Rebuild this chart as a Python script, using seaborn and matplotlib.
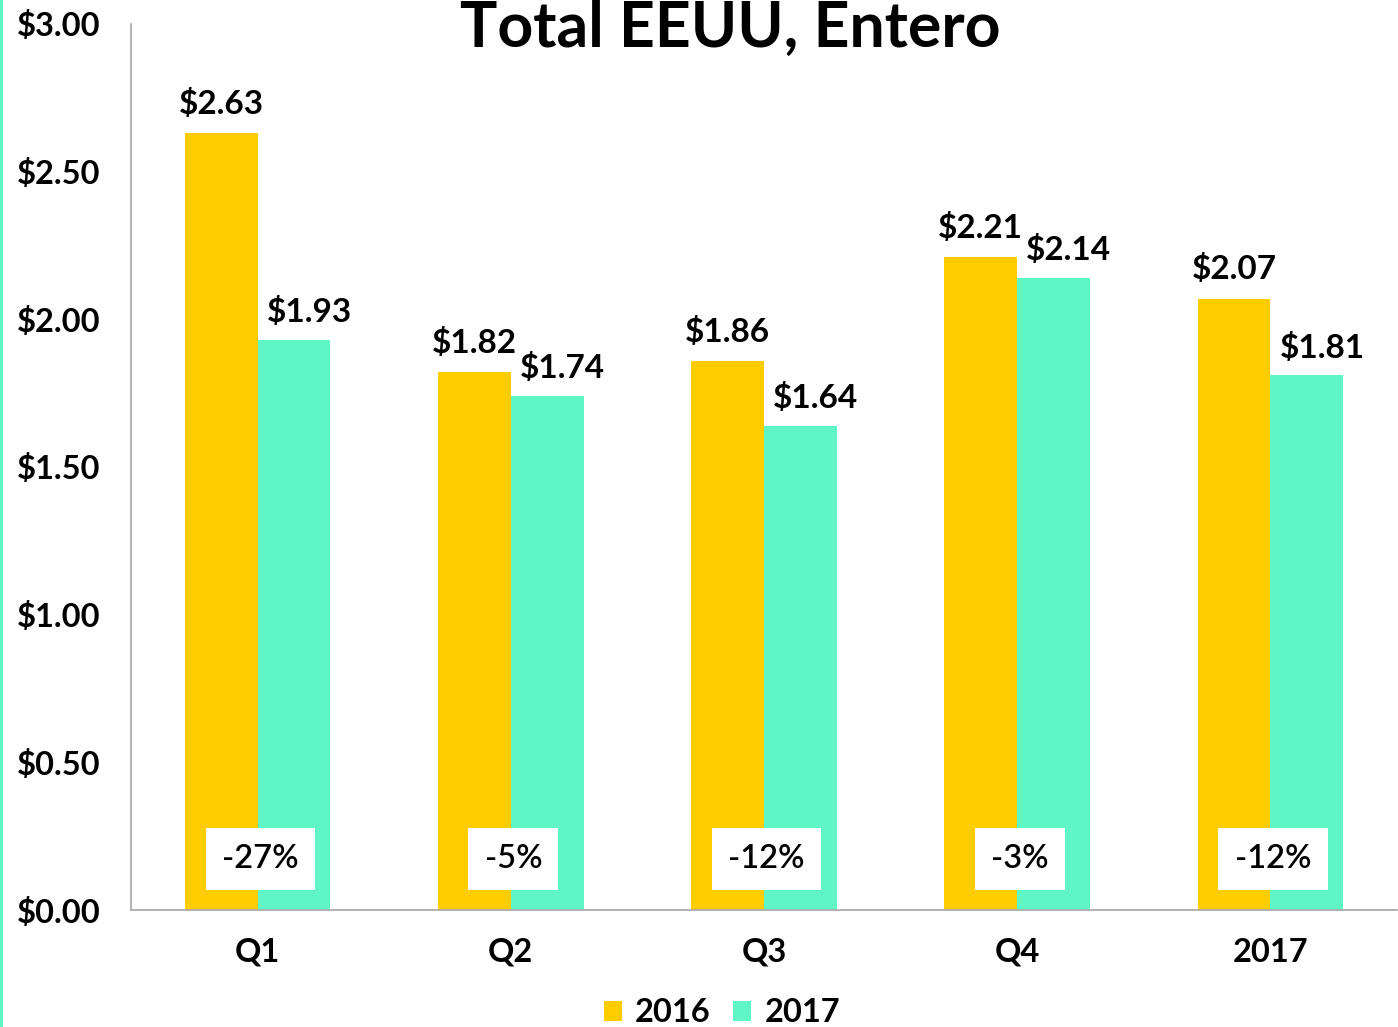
"""Precio promedio por trimestre, Total EEUU, Entero (2016 vs 2017)."""

import matplotlib
matplotlib.use("Agg")
import matplotlib.pyplot as plt
from matplotlib.patches import Rectangle
import pandas as pd
import seaborn as sns

# datos
periodos = ["Q1", "Q2", "Q3", "Q4", "2017"]
anios = ["2016", "2017"]
precio_2016 = [2.63, 1.82, 1.86, 2.21, 2.07]
precio_2017 = [1.93, 1.74, 1.64, 2.14, 1.81]
variacion = ["-27%", "-5%", "-12%", "-3%", "-12%"]
yticks = [0.0, 0.5, 1.0, 1.5, 2.0, 2.5, 3.0]

AMARILLO = "#FFCC00"
TURQUESA = "#60F5C5"
GRIS = "#A6A6A6"

df = pd.DataFrame({
    "periodo": periodos * 2,
    "anio": [anios[0]] * len(periodos) + [anios[1]] * len(periodos),
    "precio": precio_2016 + precio_2017,
})

sns.set_theme(style="white")
plt.rcParams["font.family"] = ["Lato", "DejaVu Sans"]
plt.rcParams["text.color"] = "black"
plt.rcParams["xtick.labelcolor"] = "black"
plt.rcParams["ytick.labelcolor"] = "black"

fig = plt.figure(figsize=(13.98, 10.27), dpi=100)
ax = fig.add_axes([131 / 1398, 117 / 1027, 1266 / 1398, 886 / 1027])

sns.barplot(
    data=df, x="periodo", y="precio", hue="anio",
    palette=[AMARILLO, TURQUESA], width=0.575, saturation=1,
    linewidth=0, ax=ax,
)

ax.set_ylim(0, 3.0)
ax.set_xlim(-0.5, len(periodos) - 0.5)
ax.set_yticks(yticks)
ax.set_yticklabels([f"${v:.2f}" for v in yticks], fontsize=23.5, fontweight="bold")
ax.set_xticks(range(len(periodos)))
ax.set_xticklabels(periodos, fontsize=23.5, fontweight="bold")
ax.set_xlabel("")
ax.set_ylabel("")

# ticks estilo Excel: marcas entre categorías
ax.set_xticks([i + 0.5 for i in range(-1, len(periodos))], minor=True)
ax.tick_params(axis="x", which="major", length=0, pad=20)
ax.tick_params(axis="x", which="minor", length=8, width=1.2, color=GRIS, direction="out")
ax.tick_params(axis="y", length=8, width=1.2, color=GRIS, direction="out", pad=14)

for side in ["top", "right"]:
    ax.spines[side].set_visible(False)
for side in ["left", "bottom"]:
    ax.spines[side].set_color(GRIS)
    ax.spines[side].set_linewidth(1.2)

# etiquetas de valor
for i, (a, b) in enumerate(zip(precio_2016, precio_2017)):
    ax.annotate(f"${a:.2f}", (i - 0.1437, a), xytext=(0, 21),
                textcoords="offset points", ha="center", va="center",
                fontsize=24, fontweight="bold")
    ax.annotate(f"${b:.2f}", (i + 0.1437, b), xytext=(11, 20),
                textcoords="offset points", ha="center", va="center",
                fontsize=24, fontweight="bold")
    ax.text(i + 0.01, 0.173, variacion[i], ha="center", va="center", fontsize=23.5,
            fontweight="semibold",
            bbox=dict(boxstyle="square,pad=0.5", facecolor="white", edgecolor="none"))

# leyenda abajo
handles, labels = ax.get_legend_handles_labels()
ax.legend(handles, labels, loc="center", bbox_to_anchor=(722 / 1398, 14 / 1027),
          bbox_transform=fig.transFigure, ncol=2, frameon=False,
          handlelength=0.55, handleheight=0.55, handletextpad=0.4, columnspacing=0.7,
          prop={"size": 23.5, "weight": "bold"})

fig.text(730 / 1398, 1 - 47 / 1027, "Total EEUU, Entero", ha="center", va="baseline",
         fontsize=45, fontweight="bold")

# franja turquesa del borde izquierdo
fig.patches.append(Rectangle((0, 0), 3 / 1398, 1, transform=fig.transFigure,
                             facecolor=TURQUESA, edgecolor="none"))

fig.savefig("out.png", dpi=100)
plt.close(fig)
